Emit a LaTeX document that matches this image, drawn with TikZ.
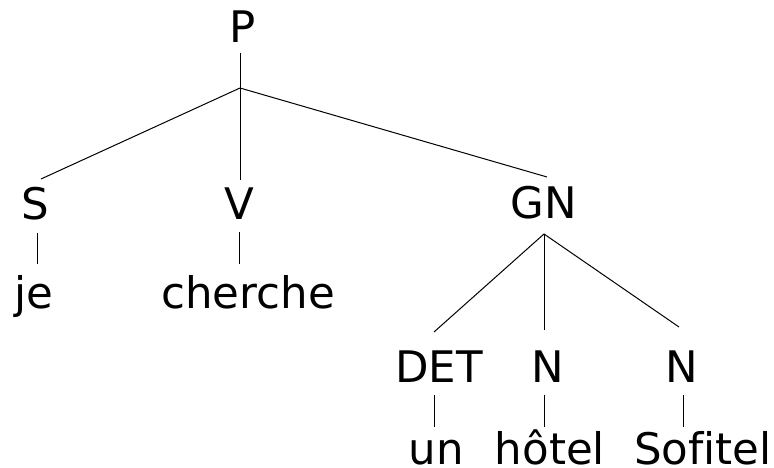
\documentclass[tikz,border=0pt]{standalone}
\usepackage{fontspec}
\setmainfont[Ligatures=NoCommon]{DejaVu Sans}
\begin{document}
\begin{tikzpicture}[x=1pt,y=1pt,
  lbl/.style={anchor=base,inner sep=0pt,font=\fontsize{43.5}{50}\selectfont},
  edge/.style={draw=black,line width=1pt}]
\useasboundingbox (0,0) rectangle (774,468);
% labels (baseline y = 468 - image y)
\node[lbl] (P) at (243,425) {P};
\node[lbl] (S) at (35,248) {S};
\node[lbl] (V) at (239,248) {V};
\node[lbl] (GN) at (544,249) {GN};
\node[lbl] (je) at (34,159) {je};
\node[lbl] (cherche) at (248,159) {cherche};
\node[lbl] (DET) at (439,85) {DET};
\node[lbl] (N1) at (548,85) {N};
\node[lbl] (N2) at (682,85) {N};
\node[lbl] (un) at (436,3) {un};
\node[lbl] (hotel) at (550,3) {hôtel};
\node[lbl] (Sofitel) at (703,3) {Sofitel};
% connector end points
\coordinate (Pb) at (240,415);
\coordinate (Pj) at (240,380);
\coordinate (St) at (41,289);
\coordinate (Vt) at (240,288);
\coordinate (GNt) at (547,291);
\coordinate (Sb) at (37,235);
\coordinate (jet) at (37,204);
\coordinate (Vb) at (239,236);
\coordinate (chet) at (239,204);
\coordinate (GNb) at (544,234);
\coordinate (DETt) at (434,136);
\coordinate (N1t) at (544,138);
\coordinate (N2t) at (679,141);
\coordinate (DETb) at (434,73);
\coordinate (unt) at (434,41);
\coordinate (N1b) at (544,73);
\coordinate (hott) at (544,41);
\coordinate (N2b) at (683,73);
\coordinate (soft) at (683,41);
% connectors
\draw[edge] (Pb) -- (Pj);
\draw[edge] (Pj) -- (St);
\draw[edge] (Pj) -- (Vt);
\draw[edge] (Pj) -- (GNt);
\draw[edge] (Sb) -- (jet);
\draw[edge] (Vb) -- (chet);
\draw[edge] (GNb) -- (DETt);
\draw[edge] (GNb) -- (N1t);
\draw[edge] (GNb) -- (N2t);
\draw[edge] (DETb) -- (unt);
\draw[edge] (N1b) -- (hott);
\draw[edge] (N2b) -- (soft);
\end{tikzpicture}
\end{document}
